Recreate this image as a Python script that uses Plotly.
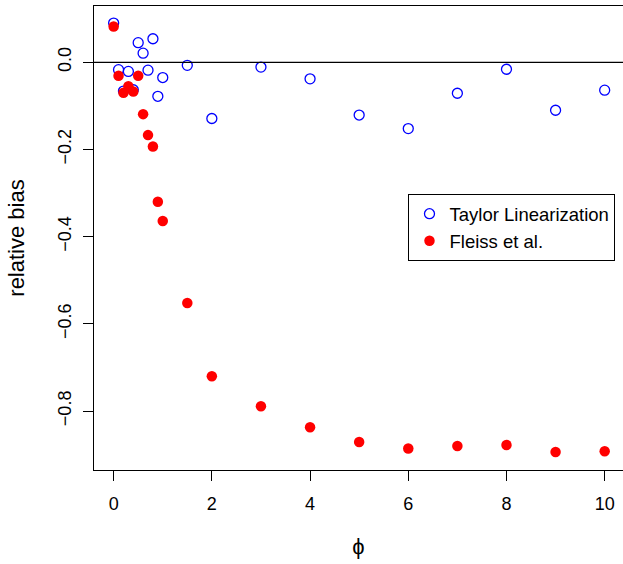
import plotly.graph_objects as go

phi = [0, 0.1, 0.2, 0.3, 0.4, 0.5, 0.6, 0.7, 0.8, 0.9, 1, 1.5, 2, 3, 4, 5, 6, 7, 8, 9, 10]
taylor = [0.090, -0.017, -0.066, -0.021, -0.063, 0.045, 0.021, -0.018, 0.054, -0.078,
          -0.035, -0.007, -0.129, -0.011, -0.038, -0.121, -0.152, -0.071, -0.016, -0.110, -0.064]
fleiss = [0.082, -0.031, -0.070, -0.055, -0.067, -0.031, -0.119, -0.167, -0.193, -0.320,
          -0.364, -0.552, -0.720, -0.789, -0.837, -0.871, -0.886, -0.880, -0.878, -0.894, -0.892]
x_ticks = [0, 2, 4, 6, 8, 10]
y_ticks = [0.0, -0.2, -0.4, -0.6, -0.8]
y_tick_labels = ["0.0", "\u22120.2", "\u22120.4", "\u22120.6", "\u22120.8"]

FONT = "Liberation Sans, Arial, sans-serif"

fig = go.Figure()
fig.add_trace(go.Scatter(
    x=phi, y=taylor, mode="markers", name="Taylor Linearization",
    marker=dict(symbol="circle-open", size=10, color="#0000FF", line=dict(width=1.3, color="#0000FF")),
))
fig.add_trace(go.Scatter(
    x=phi, y=fleiss, mode="markers", name="Fleiss et al.",
    marker=dict(symbol="circle", size=10.5, color="#FF0000"),
))
fig.add_hline(y=0, line=dict(color="black", width=1.2))

fig.update_layout(
    width=623, height=564,
    margin=dict(l=93.6, r=0, t=5.7, b=94),
    paper_bgcolor="white", plot_bgcolor="white",
    font=dict(family=FONT, size=18, color="black"),
    showlegend=True,
    legend=dict(
        x=0.5945, y=0.5944, xanchor="left", yanchor="top",
        bordercolor="black", borderwidth=1, bgcolor="white",
        font=dict(size=18.5), itemwidth=30, tracegroupgap=0,
    ),
    xaxis=dict(
        range=[-0.4, 10.373], tickmode="array", tickvals=x_ticks,
        ticks="outside", ticklen=10, tickcolor="black", tickwidth=1,
        ticklabelstandoff=7,
        showline=True, linecolor="black", linewidth=1, mirror=True,
        showgrid=False, zeroline=False,
        title=dict(text="\u03d5", standoff=26),
    ),
    yaxis=dict(
        range=[-0.9352, 0.1291], tickmode="array", tickvals=y_ticks, ticktext=y_tick_labels,
        tickangle=-90,
        ticks="outside", ticklen=10, tickcolor="black", tickwidth=1,
        ticklabelstandoff=5,
        showline=True, linecolor="black", linewidth=1, mirror=False,
        showgrid=False, zeroline=False,
        title=dict(text="relative bias", standoff=24),
    ),
)
fig.write_html("out.html", config={"displayModeBar": False},
               post_script="document.body.style.margin='0';")
